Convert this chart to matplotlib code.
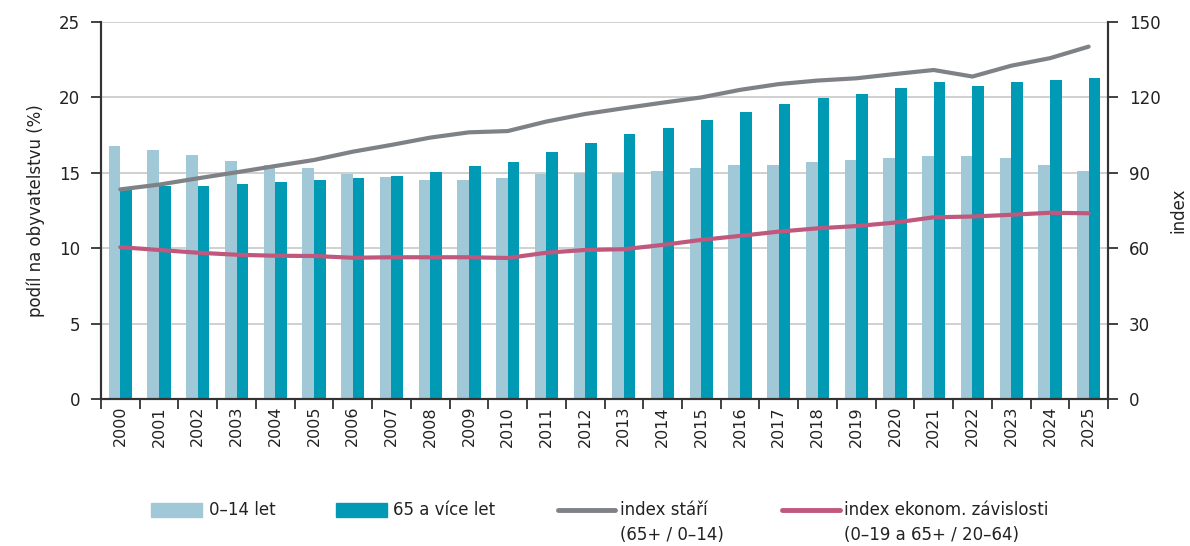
import matplotlib
matplotlib.use("Agg")
import matplotlib.pyplot as plt
import numpy as np
from matplotlib.patches import Rectangle
from matplotlib.lines import Line2D

plt.rcParams['font.family'] = ['DejaVu Sans']

years = [str(y) for y in range(2000, 2026)]
share_0_14 = [16.8, 16.5, 16.2, 15.8, 15.55, 15.3, 14.95, 14.75, 14.5, 14.5, 14.65, 14.95,
              15.0, 15.0, 15.15, 15.3, 15.55, 15.55, 15.7, 15.85, 15.95, 16.1, 16.1, 15.95,
              15.55, 15.15]
share_65 = [13.85, 14.1, 14.1, 14.25, 14.4, 14.5, 14.65, 14.8, 15.05, 15.45, 15.7, 16.35,
            17.0, 17.55, 17.95, 18.5, 19.0, 19.55, 19.95, 20.2, 20.6, 21.0, 20.75, 21.0,
            21.15, 21.3]
index_stari = [83.4, 85.3, 87.8, 90.2, 92.7, 95.1, 98.4, 101.1, 104.0, 106.1, 106.6, 110.4,
               113.4, 115.7, 117.9, 120.0, 123.0, 125.3, 126.7, 127.6, 129.3, 130.9, 128.3,
               132.6, 135.6, 140.2]
index_zavislosti = [60.4, 59.3, 58.2, 57.4, 57.0, 56.9, 56.2, 56.4, 56.4, 56.4, 56.1, 58.2,
                    59.3, 59.6, 61.3, 63.3, 64.9, 66.6, 67.9, 68.8, 70.2, 72.3, 72.6, 73.3,
                    74.1, 73.9]

labels = ["0\u201314 let", "65 a více let", "index stáří\n(65+ / 0\u201314)",
          "index ekonom. závislosti\n(0\u201319 a 65+ / 20\u201364)"]

c_light = "#A0C8D7"
c_dark = "#009AB4"
c_grey = "#7E8287"
c_pink = "#C0587E"
c_text = "#222222"
c_axis = "#333333"

fig = plt.figure(figsize=(11.9, 5.46), dpi=100)
ax = fig.add_axes([101 / 1190, 1 - 399 / 546, (1108 - 101) / 1190, (399 - 22) / 546])
ax2 = ax.twinx()

x = np.arange(len(years))
w = 0.3
ax.bar(x - w / 2, share_0_14, w, color=c_light, zorder=2)
ax.bar(x + w / 2, share_65, w, color=c_dark, zorder=2)
ax.set_axisbelow(True)

ax2.plot(x, index_stari, color=c_grey, lw=3.0, solid_capstyle='round', zorder=3)
ax2.plot(x, index_zavislosti, color=c_pink, lw=3.0, solid_capstyle='round', zorder=3)

ax.set_xlim(-0.5, len(years) - 0.5)
ax.set_ylim(0, 25)
ax2.set_ylim(0, 150)
ax.set_yticks(np.arange(0, 26, 5))
ax2.set_yticks(np.arange(0, 151, 30))
ax.yaxis.grid(True, color="#C8C8C8", lw=1.2)

ax.set_xticks(np.arange(-0.5, len(years), 1.0))
ax.set_xticklabels([])
ax.set_xticks(x, minor=True)
ax.set_xticklabels(years, minor=True, rotation=90, fontsize=11.5, color=c_text)
ax.tick_params(axis='x', which='major', length=7, width=1.3, color=c_axis, direction='out')
ax.tick_params(axis='x', which='minor', length=0, pad=5)
ax.tick_params(axis='y', length=7, width=1.3, color=c_axis, labelsize=12, labelcolor=c_text, pad=8)
ax2.tick_params(axis='y', length=7, width=1.3, color=c_axis, labelsize=12, labelcolor=c_text, pad=8)

for a in (ax, ax2):
    a.spines['top'].set_visible(False)
    for s in ('left', 'right', 'bottom'):
        a.spines[s].set_color(c_axis)
        a.spines[s].set_linewidth(1.5)

ax.set_ylabel("podíl na obyvatelstvu (%)", fontsize=12, color=c_text, labelpad=10)
ax2.set_ylabel("index", fontsize=12, color=c_text, labelpad=6)

# legend drawn manually to match layout
H, W = 546.0, 1190.0
y1 = 1 - 510 / H
y2 = 1 - 535 / H
entries = [
    ('patch', c_light, 151, 202, 209),
    ('patch', c_dark, 336, 387, 393),
    ('line', c_grey, 558, 615, 620),
    ('line', c_pink, 782, 840, 844),
]
for (kind, col, x0, x1, xt), lab in zip(entries, labels):
    if kind == 'patch':
        fig.add_artist(Rectangle((x0 / W, y1 - 7 / H), (x1 - x0) / W, 14 / H,
                                 transform=fig.transFigure, color=col))
    else:
        fig.add_artist(Line2D([x0 / W, x1 / W], [y1, y1], transform=fig.transFigure,
                              color=col, lw=3.5, solid_capstyle='round'))
    parts = lab.split("\n")
    fig.text(xt / W, y1, parts[0], fontsize=12, color=c_text, va='center', ha='left')
    if len(parts) > 1:
        fig.text(xt / W, y2, parts[1], fontsize=12, color=c_text, va='center', ha='left')

fig.savefig("out.png", dpi=100)
